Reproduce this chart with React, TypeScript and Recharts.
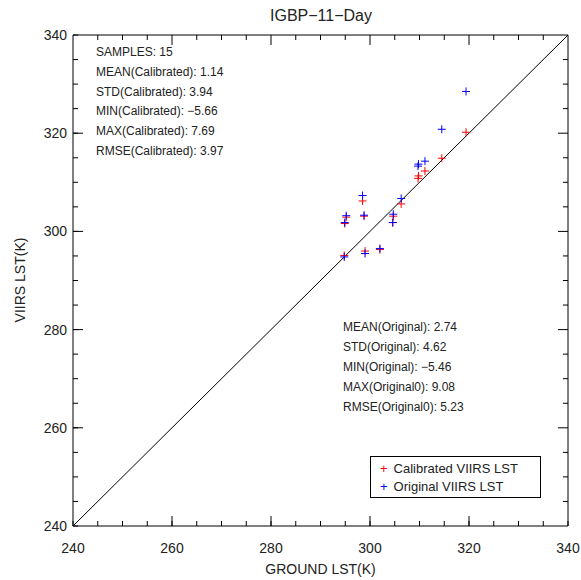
import React from "react";
import { ScatterChart, Scatter, XAxis, YAxis, ReferenceLine } from "recharts";

// ground LST (K) for the 15 samples
const groundLst = [319.4, 314.5, 311.1, 309.8, 309.7, 306.3, 304.7, 304.6, 302.0, 299.0, 298.8, 298.5, 295.2, 294.9, 294.8];
const calibratedLst = [320.2, 314.9, 312.3, 311.3, 310.8, 305.6, 303.1, 301.8, 296.3, 296.0, 303.1, 306.2, 302.9, 301.6, 295.1];
const originalLst = [328.5, 320.8, 314.3, 313.7, 313.3, 306.7, 303.5, 301.8, 296.5, 295.5, 303.3, 307.3, 303.2, 301.8, 294.8];

const axisTicks = [240, 245, 250, 255, 260, 265, 270, 275, 280, 285, 290, 295, 300, 305, 310, 315, 320, 325, 330, 335, 340];

const calibratedStats = [
  "SAMPLES: 15",
  "MEAN(Calibrated): 1.14",
  "STD(Calibrated): 3.94",
  "MIN(Calibrated): \u22125.66",
  "MAX(Calibrated): 7.69",
  "RMSE(Calibrated): 3.97",
];
const originalStats = [
  "MEAN(Original): 2.74",
  "STD(Original): 4.62",
  "MIN(Original): \u22125.46",
  "MAX(Original0): 9.08",
  "RMSE(Original0): 5.23",
];

const calibratedData = groundLst.map((g, i) => ({ x: g, y: calibratedLst[i] }));
const originalData = groundLst.map((g, i) => ({ x: g, y: originalLst[i] }));

const FONT = "'Liberation Sans', Arial, sans-serif";
const TEXT = "#222";
const tickText = { fill: TEXT, fontSize: 14, fontFamily: FONT };
const DOMAIN: [number, number] = [240, 340];

const isMajor = (t: number) => t % 20 === 0;
// inward tick length in data units (~10px major, ~5px minor)
const tickLen = (t: number) => (isMajor(t) ? 2.03 : 1.02);
const innerTicks = axisTicks.filter((t) => t !== 240 && t !== 340);
const innerMajors = innerTicks.filter(isMajor);

const Plus = (color: string) => (props: any) => {
  const { cx, cy } = props;
  return (
    <g stroke={color} strokeWidth={1}>
      <line x1={cx - 4} y1={cy} x2={cx + 4} y2={cy} />
      <line x1={cx} y1={cy - 4} x2={cx} y2={cy + 4} />
    </g>
  );
};

const Annotations = () => (
  <svg width={581} height={580} style={{ position: "absolute", left: 0, top: 0, pointerEvents: "none" }}>
    <g fontFamily={FONT} fill={TEXT}>
      <text x={321} y={21} textAnchor="middle" fontSize={16}>IGBP{"\u2212"}11{"\u2212"}Day</text>
      {calibratedStats.map((s, i) => (
        <text key={s} x={96} y={56 + i * 19.8} fontSize={12}>{s}</text>
      ))}
      {originalStats.map((s, i) => (
        <text key={s} x={343} y={331 + i * 20} fontSize={12}>{s}</text>
      ))}
      <text x={320.5} y={574} textAnchor="middle" fontSize={14}>GROUND LST(K)</text>
      <text x={0} y={0} transform="translate(25,280) rotate(-90)" textAnchor="middle" fontSize={14}>
        VIIRS LST(K)
      </text>
    </g>
  </svg>
);

const LegendBox = () => (
  <div
    style={{
      position: "absolute", left: 370, top: 456,
      width: 171, height: 42, border: "1px solid #000", background: "#fff",
      fontFamily: FONT, fontSize: 13, color: TEXT, padding: "3px 0 0 9px", boxSizing: "border-box",
      lineHeight: "18px",
    }}
  >
    <div><span style={{ color: "#f00", marginRight: 6 }}>+</span>Calibrated VIIRS LST</div>
    <div><span style={{ color: "#00f", marginRight: 6 }}>+</span>Original VIIRS LST</div>
  </div>
);

export default function App() {
  return (
    <div style={{ position: "absolute", left: 0, top: 0, width: 581, height: 580, background: "#fff" }}>
      <ScatterChart width={581} height={580} margin={{ top: 35, right: 13, bottom: 0, left: 0 }}>
        <XAxis
          dataKey="x" type="number" domain={DOMAIN} ticks={axisTicks} interval={0} height={54}
          tickSize={-5} tickMargin={22} stroke="#000" tick={tickText}
          tickFormatter={(v: number) => (isMajor(v) ? String(v) : "")} allowDataOverflow
        />
        <YAxis
          dataKey="y" type="number" domain={DOMAIN} ticks={axisTicks} interval={0} width={73}
          tickSize={-5} tickMargin={11} stroke="#000" tick={tickText}
          tickFormatter={(v: number) => (isMajor(v) ? String(v) : "")} allowDataOverflow
        />
        {/* top and right frame */}
        <ReferenceLine y={340} stroke="#000" />
        <ReferenceLine x={340} stroke="#000" />
        {/* longer major ticks on bottom / left */}
        {innerMajors.map((t) => (
          <ReferenceLine key={`b${t}`} segment={[{ x: t, y: 240 }, { x: t, y: 240 + tickLen(t) }]} stroke="#000" />
        ))}
        {innerMajors.map((t) => (
          <ReferenceLine key={`l${t}`} segment={[{ x: 240, y: t }, { x: 240 + tickLen(t), y: t }]} stroke="#000" />
        ))}
        {/* ticks on top / right */}
        {innerTicks.map((t) => (
          <ReferenceLine key={`t${t}`} segment={[{ x: t, y: 340 }, { x: t, y: 340 - tickLen(t) }]} stroke="#000" />
        ))}
        {innerTicks.map((t) => (
          <ReferenceLine key={`r${t}`} segment={[{ x: 340, y: t }, { x: 340 - tickLen(t), y: t }]} stroke="#000" />
        ))}
        <ReferenceLine segment={[{ x: 240, y: 240 }, { x: 340, y: 340 }]} stroke="#000" strokeWidth={1} />
        <Scatter name="Calibrated VIIRS LST" data={calibratedData} shape={Plus("#ff0000")} isAnimationActive={false} />
        <Scatter name="Original VIIRS LST" data={originalData} shape={Plus("#0000ff")} isAnimationActive={false} />
      </ScatterChart>
      <Annotations />
      <LegendBox />
    </div>
  );
}
